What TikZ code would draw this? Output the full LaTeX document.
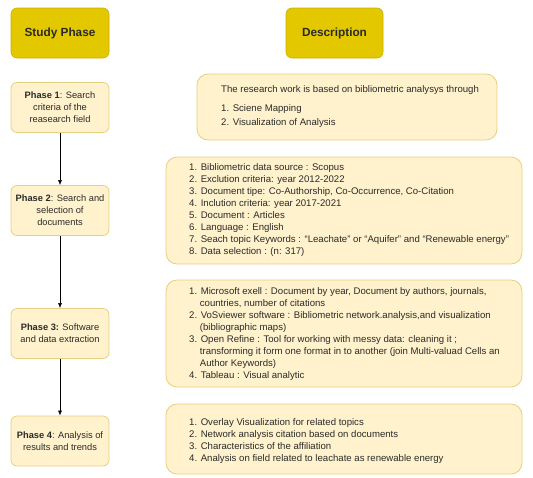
\documentclass[tikz,border=0pt]{standalone}
\usepackage{fontspec}
\setmainfont{Liberation Sans}
\usetikzlibrary{arrows.meta}
\definecolor{hdrfill}{HTML}{E3C800}
\definecolor{hdrline}{HTML}{C9B000}
\definecolor{boxfill}{HTML}{FFF2CC}
\definecolor{boxline}{HTML}{E6CF80}
\definecolor{txt}{HTML}{2A2A2A}
\tikzset{
  hdr/.style={draw=hdrline, fill=hdrfill, rounded corners=6pt, line width=0.6pt,
    minimum width=98pt, minimum height=50pt, inner sep=0pt,
    font=\fontsize{11.8}{14}\selectfont\bfseries, text=txt},
  phasebox/.style={draw=boxline, fill=boxfill, rounded corners=6pt, line width=0.8pt,
    minimum width=98pt, minimum height=50pt, inner sep=0pt, align=center,
    font=\fontsize{9.3}{12}\selectfont, text=txt},
  descbox/.style={draw=boxline, fill=boxfill, rounded corners=11pt, line width=0.8pt,
    inner sep=0pt, text=txt},
  desctext/.style={anchor=west, inner sep=0pt, align=left,
    font=\fontsize{9.6}{12}\selectfont, text=txt},
  flow/.style={draw=black, line width=0.6pt, -{Latex[length=5pt,width=4pt]}}
}
\newcommand{\ind}{\hspace*{10.7pt}}
\begin{document}
\begin{tikzpicture}[x=1pt,y=-1pt]
\useasboundingbox (0,0) rectangle (533,477);
% headers
\node[hdr] (h1) at (60,33) {Study Phase};
\node[hdr, minimum width=97pt] (h2) at (334.5,33) {Description};
% phase boxes
\node[phasebox] (p1) at (60,107.5) {\textbf{Phase 1}: Search\\criteria of the\\reasearch field};
\node[phasebox] (p2) at (60,210.5) {\textbf{Phase 2}: Search and\\selection of\\documents};
\node[phasebox] (p3) at (60,333.5) {\textbf{Phase 3:} Software\\and data extraction};
\node[phasebox] (p4) at (60,441) {\textbf{Phase 4}: Analysis of\\results and trends};
% description boxes
\node[descbox, minimum width=300pt, minimum height=66pt] (d1) at (347,107) {};
\node[descbox, minimum width=356pt, minimum height=107pt] (d2) at (344,210.5) {};
\node[descbox, minimum width=356pt, minimum height=107pt] (d3) at (344,333.5) {};
\node[descbox, minimum width=356pt, minimum height=70pt] (d4) at (344,439) {};
% description texts
\node[desctext] (t1) at (221,106.5) {The research work is based on bibliometric analysys through\\[7pt]
1. Sciene Mapping\\[2.5pt]
2. Visualization of Analysis};
\node[desctext] (t2) at (189,210) {1. Bibliometric data source : Scopus\\
2. Exclution criteria: year 2012-2022\\
3. Document tipe: Co-Authorship, Co-Occurrence, Co-Citation\\
4. Inclution criteria: year 2017-2021\\
5. Document : Articles\\
6. Language : English\\
7. Seach topic Keywords : “Leachate” or “Aquifer” and “Renewable energy”\\
8. Data selection : (n: 317)};
\node[desctext] (t3) at (189,334) {1. Microsoft exell : Document by year, Document by authors, journals,\\
\ind countries, number of citations\\
2. VoSviewer software : Bibliometric network.analysis,and visualization\\
\ind (bibliographic maps)\\
3. Open Refine : Tool for working with messy data: cleaning it ;\\
\ind transforming it form one format in to another (join Multi-valuad Cells an\\
\ind Author Keywords)\\
4. Tableau : Visual analytic};
\node[desctext] (t4) at (189,441) {1. Overlay Visualization for related topics\\
2. Network analysis citation based on documents\\
3. Characteristics of the affiliation\\
4. Analysis on field related to leachate as renewable energy};
% connectors
\draw[flow] (p1) -- (p2);
\draw[flow] (p2) -- (p3);
\draw[flow] (p3) -- (p4);
\end{tikzpicture}
\end{document}
